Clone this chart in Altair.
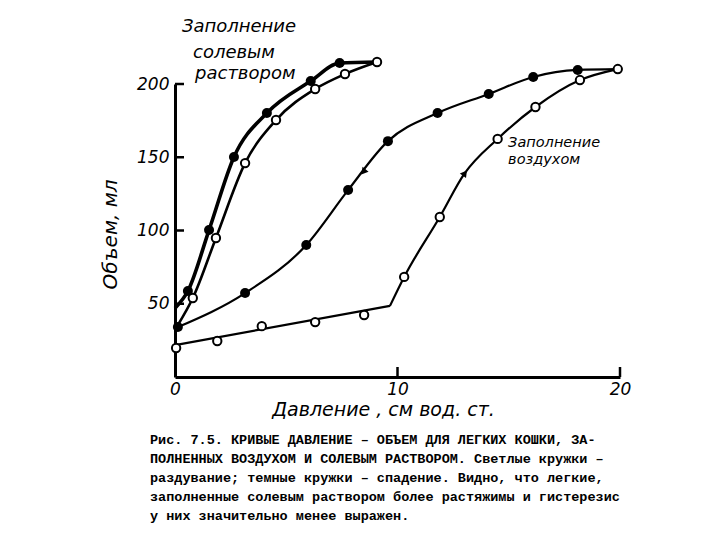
import altair as alt
import pandas as pd

# ---- data (pressure, cm H2O ; volume, ml) ----
# saline-filled lungs, deflation (dark circles)
sal_defl_x = [0.58, 1.53, 2.65, 4.13, 6.1, 7.4]
sal_defl_y = [58.7, 100.3, 150.2, 180.2, 202, 214.3]
# saline-filled lungs, inflation (open circles)
sal_infl_x = [0.8, 1.84, 3.15, 4.54, 6.3, 7.64, 9.08]
sal_infl_y = [53.9, 94.9, 146, 175.4, 196.6, 206.8, 215]
# air-filled lungs, deflation (dark circles)
air_defl_x = [0.13, 3.15, 5.9, 7.78, 9.57, 11.8, 14.1, 16.1, 18.1]
air_defl_y = [34.1, 57.3, 90.1, 127.6, 161, 180.2, 193.2, 204.8, 209.6]
# air-filled lungs, inflation (open circles)
air_infl_x = [0.05, 1.9, 3.9, 6.3, 8.5, 10.3, 11.9, 14.5, 16.2, 18.2, 19.9]
air_infl_y = [19.8, 24.6, 34.7, 37.5, 42.3, 68.3, 109.2, 162.5, 184.3, 202.7, 210.2]

# line ends / knee of the curves
sal_defl_start = (0.0, 47.0)
sal_infl_start = (0.13, 35.5)
air_infl_start = (0.0, 21.8)
air_infl_knee = (9.66, 48.5)
air_arrow_up = (13.0, 138.6)

# direction arrows on the air curves
arrow_x = [8.5, 13.0]
arrow_y = [140.6, 138.6]
arrow_angle = [219, 37]

x_tick_values = [0, 10, 20]
y_tick_values = [50, 100, 150, 200]

caption_lines = [
    "Рис. 7.5. КРИВЫЕ ДАВЛЕНИЕ – ОБЪЕМ ДЛЯ ЛЕГКИХ КОШКИ, ЗА-",
    "ПОЛНЕННЫХ ВОЗДУХОМ И СОЛЕВЫМ РАСТВОРОМ. Светлые кружки –",
    "раздувание; темные кружки –  спадение. Видно, что легкие,",
    "заполненные солевым раствором более растяжимы и гистерезис",
    "у них значительно менее выражен.",
]

ann_text = ["Заполнение", "солевым", "раствором", "Заполнение", "воздухом"]
ann_x = [0.31, 0.81, 0.9, 14.97, 14.97]
ann_y = [239, 221, 206.5, 160, 148.2]
ann_size = [18, 18, 18, 14.5, 14.5]

HAND = "DejaVu Sans"

# ---- tables ----
def line_df(xs, ys):
    return pd.DataFrame({"x": xs, "y": ys})

sal_defl_line = line_df([sal_defl_start[0]] + sal_defl_x + [sal_infl_x[-1]],
                        [sal_defl_start[1]] + sal_defl_y + [sal_infl_y[-1]])
sal_infl_line = line_df([sal_infl_start[0]] + sal_infl_x,
                        [sal_infl_start[1]] + sal_infl_y)
air_defl_line = line_df(air_defl_x + [air_infl_x[-1]],
                        air_defl_y + [air_infl_y[-1]])
air_infl_straight = line_df([air_infl_start[0], air_infl_knee[0]],
                            [air_infl_start[1], air_infl_knee[1]])
curve_x = [air_infl_knee[0]] + air_infl_x[5:7] + [air_arrow_up[0]] + air_infl_x[7:]
curve_y = [air_infl_knee[1]] + air_infl_y[5:7] + [air_arrow_up[1]] + air_infl_y[7:]
air_infl_curve = line_df(curve_x, curve_y)

filled = pd.DataFrame({"x": sal_defl_x + air_defl_x, "y": sal_defl_y + air_defl_y})
opened = pd.DataFrame({"x": sal_infl_x + air_infl_x, "y": sal_infl_y + air_infl_y})
arrows = pd.DataFrame({"x": arrow_x, "y": arrow_y, "a": arrow_angle})
ann = pd.DataFrame({"x": ann_x, "y": ann_y, "t": ann_text, "s": ann_size})

xs = alt.Scale(domain=[0, 20], nice=False, zero=False)
ys = alt.Scale(domain=[0, 200], nice=False, zero=False)

X = alt.X("x:Q", scale=xs, axis=alt.Axis(
    values=x_tick_values, ticks=False, tickSize=0, grid=False,
    domainColor="black", domainWidth=3,
    labelFont=HAND, labelFontStyle="italic", labelFontSize=17, labelColor="black",
    labelPadding=4, labelFlush=False,
    title="Давление , см вод. ст.", titleFont=HAND, titleFontStyle="italic",
    titleFontWeight="normal", titleFontSize=19, titleColor="black",
    titleX=208, titleY=32, titleAlign="center", titleBaseline="middle"))
Y = alt.Y("y:Q", scale=ys, axis=alt.Axis(
    values=y_tick_values, ticks=False, tickSize=0, grid=False,
    domainColor="black", domainWidth=3,
    labelFont=HAND, labelFontStyle="italic", labelFontSize=17, labelColor="black",
    labelPadding=6,
    title="Объем, мл", titleFont=HAND, titleFontStyle="italic",
    titleFontWeight="normal", titleFontSize=20, titleColor="black",
    titleX=-65, titleY=150, titleAngle=-90, titleAlign="center", titleBaseline="middle"))


def curve(df, width, interp="monotone"):
    return alt.Chart(df).mark_line(color="black", strokeWidth=width,
                                   interpolate=interp, clip=False).encode(x=X, y=Y)

layers = [
    curve(sal_defl_line, 3.6),
    curve(sal_infl_line, 2.6),
    curve(air_defl_line, 2.2),
    curve(air_infl_straight, 2.2, "linear"),
    curve(air_infl_curve, 2.2),
    alt.Chart(filled).mark_point(shape="circle", filled=True, color="black",
                                 size=100, opacity=1).encode(x=X, y=Y),
    alt.Chart(opened).mark_point(shape="circle", filled=True, fill="white",
                                 stroke="black", strokeWidth=2, size=70,
                                 opacity=1).encode(x=X, y=Y),
    alt.Chart(arrows).mark_point(shape="triangle", filled=True, color="black",
                                 size=60, opacity=1).encode(
        x=X, y=Y, angle=alt.Angle("a:Q", scale=None)),
    alt.Chart(pd.DataFrame({"y": y_tick_values})).mark_rule(
        color="black", strokeWidth=2.5).encode(
        y=alt.Y("y:Q", scale=ys), x=alt.value(0), x2=alt.value(9)),
    alt.Chart(pd.DataFrame({"x": x_tick_values[1:]})).mark_rule(
        color="black", strokeWidth=2.5).encode(
        x=alt.X("x:Q", scale=xs), y=alt.value(293), y2=alt.value(283)),
    alt.Chart(ann).mark_text(align="left", baseline="middle", font=HAND,
                             fontStyle="italic", color="black").encode(
        x=alt.X("x:Q", scale=xs), y=alt.Y("y:Q", scale=ys), text="t:N",
        size=alt.Size("s:Q", scale=None, legend=None)),
]

chart = alt.layer(*layers).properties(
    width=445, height=293,
    autosize=alt.AutoSizeParams(type="none"),
    padding={"left": 167, "top": 76, "right": 92, "bottom": 155},
    title=alt.TitleParams(
        text=caption_lines, orient="bottom", anchor="start", frame="group",
        font="Liberation Mono", fontSize=13.5, fontWeight="bold",
        color="black", lineHeight=19, dx=-25, offset=14),
    background="white",
).configure_view(stroke=None)

chart.save("out.html", embed_options={"renderer": "svg", "actions": False})
